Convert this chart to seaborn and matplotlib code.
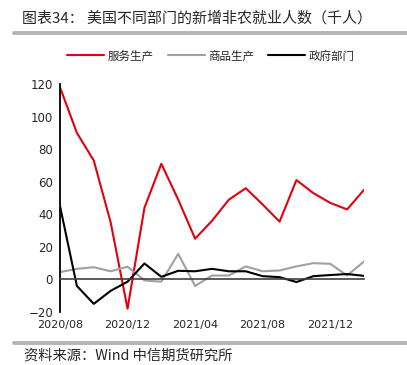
import pandas as pd
import seaborn as sns
import matplotlib.pyplot as plt
from matplotlib.lines import Line2D

months = ["2020/08", "2020/09", "2020/10", "2020/11", "2020/12",
          "2021/01", "2021/02", "2021/03", "2021/04", "2021/05", "2021/06",
          "2021/07", "2021/08", "2021/09", "2021/10", "2021/11", "2021/12",
          "2022/01", "2022/02"]
services = [118, 90, 73, 35, -18, 44, 71, 49, 25, 36, 49, 56, 46, 35.5, 61, 53, 47, 43, 55]
goods = [4.5, 6.5, 7.5, 5, 7.8, -0.6, -1.4, 15.7, -4, 2.4, 2.4, 8, 5, 5.5, 8, 10, 9.6, 2.4, 11]
government = [45, -4, -15, -7, -1.4, 9.8, 1.6, 5.3, 5, 6.5, 5, 5, 2, 1.4, -1.6, 2, 2.7, 3.3, 2.2]
series_names = ["服务生产", "商品生产", "政府部门"]
tick_months = ["2020/08", "2020/12", "2021/04", "2021/08", "2021/12"]

sns.set_style("white")
plt.rcParams["font.family"] = ["Noto Sans CJK SC", "DejaVu Sans"]

df = pd.DataFrame({"month": months, series_names[0]: services,
                   series_names[1]: goods, series_names[2]: government})
df["pos"] = range(len(months))
long_df = df.melt(id_vars=["month", "pos"], var_name="series", value_name="value")

palette = {"服务生产": "#e3000f", "商品生产": "#a0a0a0", "政府部门": "#000000"}

fig = plt.figure(figsize=(4.07, 3.65), dpi=100)
ax = fig.add_axes([60 / 407, 1 - 312 / 365, (364 - 60) / 407, 228 / 365])

sns.lineplot(data=long_df, x="pos", y="value", hue="series", palette=palette,
             hue_order=series_names, linewidth=1.5, ax=ax, legend=False)

ax.set_xlim(0, len(months) - 1)
ax.set_ylim(-20, 120)
ax.set_yticks(range(-20, 121, 20))
ax.set_xlabel("")
ax.set_ylabel("")

# x axis sits on the zero line, labels stay at the bottom
ax.spines["bottom"].set_position(("data", 0))
ax.spines["bottom"].set_color("#404040")
ax.spines["bottom"].set_linewidth(1.2)
for s in ["top", "right"]:
    ax.spines[s].set_visible(False)
ax.spines["left"].set_color("black")
ax.spines["left"].set_linewidth(1.3)

tick_pos = [months.index(m) for m in tick_months]
ax.set_xticks(tick_pos)
ax.set_xticklabels(tick_months, family="DejaVu Sans")
ax.tick_params(axis="x", direction="out", length=3, width=1, color="#404040",
               pad=26, labelsize=8)
ax.tick_params(axis="y", direction="out", length=3, width=1, color="black",
               pad=2, labelsize=8.5)
for lab in ax.get_yticklabels():
    lab.set_family("DejaVu Sans")

handles = [Line2D([], [], color=palette[n], linewidth=1.5) for n in series_names]
fig.legend(handles, series_names, loc="center", bbox_to_anchor=(0.518, 1 - 56 / 365),
           ncol=3, frameon=False, fontsize=8.3, handlelength=3.2,
           columnspacing=1.25, handletextpad=0.3)

fig.text(22 / 407, 1 - 18 / 365, "图表34： 美国不同部门的新增非农就业人数（千人）",
         fontsize=10.8, va="center", ha="left")
fig.add_artist(Line2D([14 / 407, 1], [1 - 33 / 365] * 2, color="#b4b4b4",
                      linewidth=2.8, transform=fig.transFigure))
fig.add_artist(Line2D([14 / 407, 1], [1 - 343 / 365] * 2, color="#b4b4b4",
                      linewidth=2.8, transform=fig.transFigure))
fig.text(24 / 407, 1 - 356 / 365, "资料来源：Wind 中信期货研究所",
         fontsize=10.3, va="center", ha="left")

fig.savefig("out.png", dpi=100)
